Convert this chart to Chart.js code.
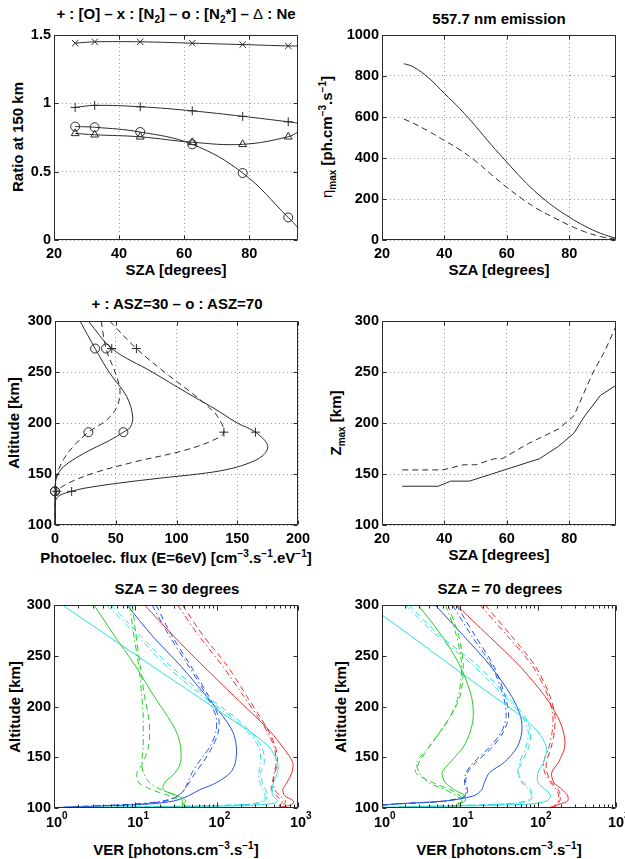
<!DOCTYPE html>
<html>
<head>
<meta charset="utf-8">
<title>Ratios, 557.7 nm emission and VER profiles</title>
<script src="https://cdn.jsdelivr.net/npm/chart.js@4.4.1/dist/chart.umd.min.js"></script>
<style>
  html,body{margin:0;padding:0;background:#fff;overflow:hidden}
  #fig{position:relative;width:625px;height:859px;overflow:hidden;
       font-family:"Liberation Sans",Arial,Helvetica,sans-serif;font-weight:bold;color:#000}
  #fig canvas{position:absolute}
  .lbl{position:absolute;font-size:15px;line-height:15px;white-space:nowrap;transform:translate(-50%,-50%)}
  .lbl.rot{transform:translate(-50%,-50%) rotate(-90deg)}
  .lbl sub,.lbl sup{font-size:10px;line-height:0}
  .greek{font-weight:normal}
</style>
</head>
<body>
<div id="fig">
  <!-- titles -->
  <div class="lbl" style="left:176px;top:13px">+ : [O] – x : [N<sub>2</sub>] – o : [N<sub>2</sub>*] – <span class="greek">Δ</span> : Ne</div>
  <div class="lbl" style="left:499px;top:18px">557.7 nm emission</div>
  <div class="lbl" style="left:177px;top:303px">+ : ASZ=30 – o : ASZ=70</div>
  <div class="lbl" style="left:177px;top:588px">SZA = 30 degrees</div>
  <div class="lbl" style="left:500px;top:588px">SZA = 70 degrees</div>
  <!-- x labels -->
  <div class="lbl" style="left:176px;top:269px">SZA [degrees]</div>
  <div class="lbl" style="left:499px;top:269px">SZA [degrees]</div>
  <div class="lbl" style="left:176px;top:557px">Photoelec. flux (E=6eV) [cm<sup>−3</sup>.s<sup>−1</sup>.eV<sup>−1</sup>]</div>
  <div class="lbl" style="left:499px;top:554px">SZA [degrees]</div>
  <div class="lbl" style="left:176px;top:849px">VER [photons.cm<sup>−3</sup>.s<sup>−1</sup>]</div>
  <div class="lbl" style="left:499px;top:849px">VER [photons.cm<sup>−3</sup>.s<sup>−1</sup>]</div>
  <!-- y labels -->
  <div class="lbl rot" style="left:17px;top:137px">Ratio at 150 km</div>
  <div class="lbl rot" style="left:326px;top:137px"><span class="greek">η</span><sub>max</sub> [ph.cm<sup>−3</sup>.s<sup>−1</sup>]</div>
  <div class="lbl rot" style="left:13px;top:423px">Altitude [km]</div>
  <div class="lbl rot" style="left:335px;top:423px">Z<sub>max</sub> [km]</div>
  <div class="lbl rot" style="left:14px;top:707px">Altitude [km]</div>
  <div class="lbl rot" style="left:340px;top:707px">Altitude [km]</div>
</div>
<script>
// ---- panel 1 : ratio at 150 km vs SZA (last point = end of curve, no marker)
const szaRatio = [26.5, 32.5, 46.5, 62.5, 78, 92, 95];
const ratioO   = [0.97, 0.985, 0.975, 0.945, 0.905, 0.865, 0.855];
const ratioN2  = [1.44, 1.45, 1.45, 1.44, 1.43, 1.42, 1.42];
const ratioN2s = [0.83, 0.825, 0.79, 0.70, 0.49, 0.165, 0.09];
const ratioNe  = [0.78, 0.77, 0.755, 0.715, 0.70, 0.755, 0.79];

// ---- panel 2 : 557.7 nm max emission
const szaEta    = [27, 30, 35, 40, 45, 50, 55, 60, 65, 70, 75, 80, 85, 90, 95];
const etaSolid  = [860, 845, 790, 715, 640, 555, 465, 380, 297, 224, 163, 112, 68, 33, 8];
const etaDashed = [590, 570, 530, 485, 440, 385, 320, 257, 200, 150, 110, 72, 40, 17, 4];

// ---- panel 3 : photoelectron flux profiles (x = flux, y = altitude)
const markAlts = [273, 191, 133];
const altA  = [300, 273, 250, 230, 215, 200, 191, 178, 168, 160, 154, 150, 146, 141, 136, 133, 129, 124, 100];
const fluxA = [27.5, 46.7, 80, 108, 130, 150, 165, 175, 171, 158, 140, 118, 87, 52, 24, 13.7, 4, 0.5, 0];
const altB  = [300, 273, 250, 230, 215, 206, 191, 183, 173, 162, 151, 141, 133, 125, 100];
const fluxB = [45, 67, 90, 112, 127, 134, 139, 130, 106, 66, 32, 11, 1.4, 0, 0];
const altC  = [300, 273, 249, 226, 206, 196, 191, 183, 170, 157, 147, 137, 133, 100];
const fluxC = [20.6, 33, 45, 59, 64, 62, 56.3, 45, 23.4, 6.9, 1.4, 0, 0, 0];
const altD  = [300, 273, 248, 232, 216, 203, 191, 177, 164, 151, 138, 133, 100];
const fluxD = [38, 42, 50, 53.5, 51, 42.6, 27.5, 15, 6.9, 1.9, 0.3, 0, 0];

// ---- panel 4 : altitude of max
const szaZs      = [26.5, 38, 42, 48, 70.5, 76.5, 81.5, 85, 90, 95];
const zmaxSolid  = [138, 138, 143, 143, 165, 177, 190, 207, 227, 237];
const szaZd      = [26.5, 39.5, 46, 50, 56, 58.5, 67, 76.5, 81.5, 84.5, 87.7, 91.5, 95];
const zmaxDashed = [154, 154, 159, 159, 165, 165, 180, 194, 207, 228, 250, 271, 295];

// ---- panels 5/6 : VER profiles, common altitude grid
const altVer = [300, 270, 240, 210, 190, 175, 160, 145, 135, 125, 118, 112, 107, 104, 102, 100];
// SZA = 30
const r30s = [13, 29, 68, 165, 300, 460, 650, 860, 840, 730, 650, 690, 880, 860, 740, 520];
const r30d = [38, 68, 135, 235, 340, 440, 530, 560, 520, 480, 470, 540, 640, 620, 560, 500];
const r30c = [33, 60, 118, 215, 320, 420, 510, 540, 510, 500, 520, 600, 700, 680, 600, 540];
const b30s = [7.9, 16, 36, 75, 120, 158, 175, 170, 148, 100, 62, 45, 30, 15, 4, 0.8];
const b30d = [18, 28, 48, 80, 105, 105, 88, 68, 55, 46, 40, 34, 24, 12, 3, 0.8];
const b30c = [16, 26, 45, 76, 98, 98, 82, 60, 50, 44, 40, 33, 22, 10, 3, 0.8];
const g30s = [3.1, 5.5, 10, 17, 25, 32, 36, 36, 31, 23, 22, 33, 42, 39, 38, 37.5];
const g30d = [9.2, 10.2, 11.5, 13, 14.5, 15, 14.5, 12.5, 10.5, 11, 16, 26, 36, 38, 38, 37.5];
const g30c = [8.5, 9.6, 11, 12, 12.5, 12.5, 12.5, 12, 12.5, 15, 21, 32, 38, 38, 38, 37.5];
const c30s = [1.27, 4.5, 16, 58, 135, 260, 440, 560, 560, 500, 480, 490, 560, 450, 150, 0.5];
const c30d = [5, 11.5, 27, 75, 165, 260, 360, 385, 350, 365, 400, 420, 390, 290, 60, 0.5];
const c30c = [4.4, 10.5, 24, 68, 150, 240, 330, 350, 330, 340, 370, 395, 370, 270, 50, 0.5];
// SZA = 70
const r70s = [9, 23, 58, 123, 178, 212, 220, 183, 150, 160, 205, 240, 240, 195, 160, 136];
const r70d = [21, 45, 92, 143, 165, 162, 148, 128, 130, 152, 182, 195, 190, 178, 168, 160];
const r70c = [18, 40, 85, 135, 155, 152, 138, 118, 122, 145, 172, 185, 182, 172, 164, 156];
const b70s = [4.8, 11, 24.5, 46, 60, 62, 54, 37, 24, 20.5, 19, 15, 6.5, 1.5, 0.8, 0.5];
const b70d = [9, 15.5, 27, 38, 42, 36, 26, 16, 12.5, 11.8, 12.5, 12, 7, 1.6, 0.8, 0.5];
const b70c = [8, 14, 25.5, 36, 39, 34, 24, 15, 12, 11.4, 12, 11.5, 6.5, 1.5, 0.8, 0.5];
const g70s = [2.9, 5.8, 10, 14, 14.8, 13.5, 11, 7.5, 5.9, 6.5, 8.5, 11.6, 11.6, 9.6, 9, 8.7];
const g70d = [7, 9.6, 11, 10, 7.5, 5.5, 4, 3, 2.7, 4.5, 7.5, 10, 11, 9.5, 8.5, 8];
const g70c = [6.5, 9, 10.5, 9.5, 7.5, 5.6, 4, 2.8, 3, 4, 6.5, 9, 10.5, 9, 8.5, 8];
const c70s = [0.66, 2.3, 7.8, 27, 62, 100, 128, 118, 100, 100, 125, 145, 130, 80, 10, 0.5];
const c70d = [2.2, 5.5, 17, 40, 68, 80, 76, 62, 56, 65, 80, 86, 76, 40, 5, 0.5];
const c70c = [2.0, 5, 15, 37, 63, 75, 70, 58, 55, 62, 76, 82, 72, 36, 5, 0.5];

const qs = sel => document.querySelector(sel);
const fig = qs('#fig');
const FONT = '"Liberation Sans", Arial, Helvetica, sans-serif';
const TICK_FONT = {family: FONT, size: 14.5, weight: 'bold'};
const INK = '#2a2a2a';
const DASH = [6, 4], DASHDOT = [6, 3, 1.5, 3];
const RED = '#ee2c2c', BLUE = '#2254e0', GREEN = '#22d022', CYAN = '#22e2e2';

const xy = (xs, ys) => xs.map((x, i) => ({x, y: ys[i]}));

// box + inward ticks (matlab look), log labels with exponents
const frame = {
  id: 'frame',
  afterDatasetsDraw(chart) {
    const {ctx, chartArea: a, scales: {x, y}} = chart;
    const l = Math.round(a.left) + 0.5, r = Math.round(a.right) - 0.5;
    const t = Math.round(a.top) + 0.5, b = Math.round(a.bottom) - 0.5;
    ctx.save();
    ctx.strokeStyle = INK;
    ctx.lineWidth = 1;
    ctx.setLineDash([]);
    ctx.beginPath();
    ctx.rect(l, t, r - l, b - t);
    const vt = (px, len) => { px = Math.round(px) + 0.5; ctx.moveTo(px, b); ctx.lineTo(px, b - len); ctx.moveTo(px, t); ctx.lineTo(px, t + len); };
    const ht = (py, len) => { py = Math.round(py) + 0.5; ctx.moveTo(l, py); ctx.lineTo(l + len, py); ctx.moveTo(r, py); ctx.lineTo(r - len, py); };
    const isLog = x.type === 'logarithmic';
    if (isLog) {
      for (let d = 1; d < x.max; d *= 10)
        for (let k = 2; k < 10; k++) vt(x.getPixelForValue(d * k), 3);
      for (let d = 1; d <= x.max; d *= 10) vt(x.getPixelForValue(d), 5);
    } else {
      x.ticks.forEach(tk => vt(x.getPixelForValue(tk.value), 4));
    }
    y.ticks.forEach(tk => ht(y.getPixelForValue(tk.value), 4));
    ctx.stroke();
    if (isLog) {
      ctx.fillStyle = '#000';
      ctx.textBaseline = 'middle';
      for (let e = 0, d = 1; d <= x.max; e++, d *= 10) {
        const px = x.getPixelForValue(d);
        ctx.font = 'bold 14.5px ' + FONT;
        ctx.textAlign = 'center';
        ctx.fillText('10', px, a.bottom + 15);
        const hw = ctx.measureText('10').width / 2;
        ctx.font = 'bold 10px ' + FONT;
        ctx.textAlign = 'left';
        ctx.fillText(String(e), px + hw, a.bottom + 8);
      }
    }
    ctx.restore();
  }
};

function lin(min, max, stepSize, gridOn = true) {
  return {
    type: 'linear', min, max,
    ticks: {stepSize, includeBounds: false, font: TICK_FONT, color: '#000', padding: 3,
            maxRotation: 0, autoSkip: false, callback: v => String(v)},
    grid: {display: gridOn, color: '#a0a0a0', lineWidth: 1, drawTicks: false},
    border: {display: false, dash: [1, 3]}
  };
}
function logx() {
  return {type: 'logarithmic', min: 1, max: 1000, ticks: {display: false},
          grid: {display: false, drawTicks: false}, border: {display: false}};
}

// one canvas per panel, chart area pinned at (L,T)-(R,B)
function panel(L, T, R, B, datasets, xs, ys) {
  const ML = 50, MT = 10, MR = 24, MB = 34;
  const w = R - L + ML + MR, h = B - T + MT + MB;
  const cv = document.createElement('canvas');
  cv.width = w; cv.height = h;
  Object.assign(cv.style, {left: (L - ML) + 'px', top: (T - MT) + 'px', width: w + 'px', height: h + 'px'});
  fig.appendChild(cv);
  if (xs.ticks.padding !== undefined) xs.ticks.padding = 5;
  xs.afterFit = s => { s.height = MB; s.paddingLeft = 0; s.paddingRight = 0; };
  ys.afterFit = s => { s.width = ML; s.paddingTop = 0; s.paddingBottom = 0; };
  return new Chart(cv, {
    type: 'scatter',
    data: {datasets},
    options: {
      responsive: false, animation: false, devicePixelRatio: 1,
      layout: {padding: {top: MT, right: MR, left: 0, bottom: 0}},
      plugins: {legend: {display: false}, tooltip: {enabled: false}},
      scales: {x: xs, y: ys}
    },
    plugins: [frame]
  });
}

const marked = (xs, ys, style, radii) => ({
  data: xy(xs, ys), showLine: true, tension: 0.4, borderColor: INK, borderWidth: 1,
  pointStyle: style, pointRadius: radii, pointBorderColor: INK, pointBorderWidth: 1,
  pointBackgroundColor: 'rgba(0,0,0,0)', clip: false
});
const endless = ys => ys.map((_, i) => i < ys.length - 1 ? 4.5 : 0);
const plain = (xs, ys, dash, tension) => ({
  data: xy(xs, ys), showLine: true, tension, borderColor: INK, borderWidth: 1,
  borderDash: dash, pointRadius: 0
});
const prof = (alts, flux, dash, style) => ({
  ...marked(flux, alts, style, alts.map(a => markAlts.includes(a) ? 4.5 : 0)),
  tension: 0.35, borderDash: dash
});
const ver = (vals, color, dash) => ({
  data: xy(vals, altVer), showLine: true, tension: 0.3, borderColor: color, borderWidth: 1,
  borderDash: dash, pointRadius: 0
});

panel(54, 35, 298, 240, [
  marked(szaRatio, ratioN2, 'crossRot', endless(ratioN2)),
  marked(szaRatio, ratioO, 'cross', endless(ratioO)),
  marked(szaRatio, ratioN2s, 'circle', endless(ratioN2s)),
  marked(szaRatio, ratioNe, 'triangle', endless(ratioNe))
], lin(20, 95, 20), lin(0, 1.5, 0.5));

panel(382, 35, 616, 240, [
  plain(szaEta, etaSolid, [], 0.4),
  plain(szaEta, etaDashed, DASH, 0.4)
], lin(20, 95, 20), lin(0, 1000, 200));

panel(55, 321, 298, 525, [
  prof(altA, fluxA, [], 'cross'),
  prof(altB, fluxB, DASH, 'cross'),
  prof(altC, fluxC, [], 'circle'),
  prof(altD, fluxD, DASH, 'circle')
], lin(0, 200, 50), lin(100, 300, 50));

panel(382, 321, 616, 525, [
  plain(szaZs, zmaxSolid, [], 0),
  plain(szaZd, zmaxDashed, DASH, 0)
], lin(20, 95, 20), lin(100, 300, 50));

panel(54, 605, 298, 808, [
  ver(g30s, GREEN, []), ver(g30d, GREEN, DASH), ver(g30c, GREEN, DASHDOT),
  ver(c30s, CYAN, []), ver(c30d, CYAN, DASH), ver(c30c, CYAN, DASHDOT),
  ver(b30s, BLUE, []), ver(b30d, BLUE, DASH), ver(b30c, BLUE, DASHDOT),
  ver(r30s, RED, []), ver(r30d, RED, DASH), ver(r30c, RED, DASHDOT)
], logx(), lin(100, 300, 50, false));

panel(382, 605, 616, 808, [
  ver(g70s, GREEN, []), ver(g70d, GREEN, DASH), ver(g70c, GREEN, DASHDOT),
  ver(c70s, CYAN, []), ver(c70d, CYAN, DASH), ver(c70c, CYAN, DASHDOT),
  ver(b70s, BLUE, []), ver(b70d, BLUE, DASH), ver(b70c, BLUE, DASHDOT),
  ver(r70s, RED, []), ver(r70d, RED, DASH), ver(r70c, RED, DASHDOT)
], logx(), lin(100, 300, 50, false));
</script>
</body>
</html>
